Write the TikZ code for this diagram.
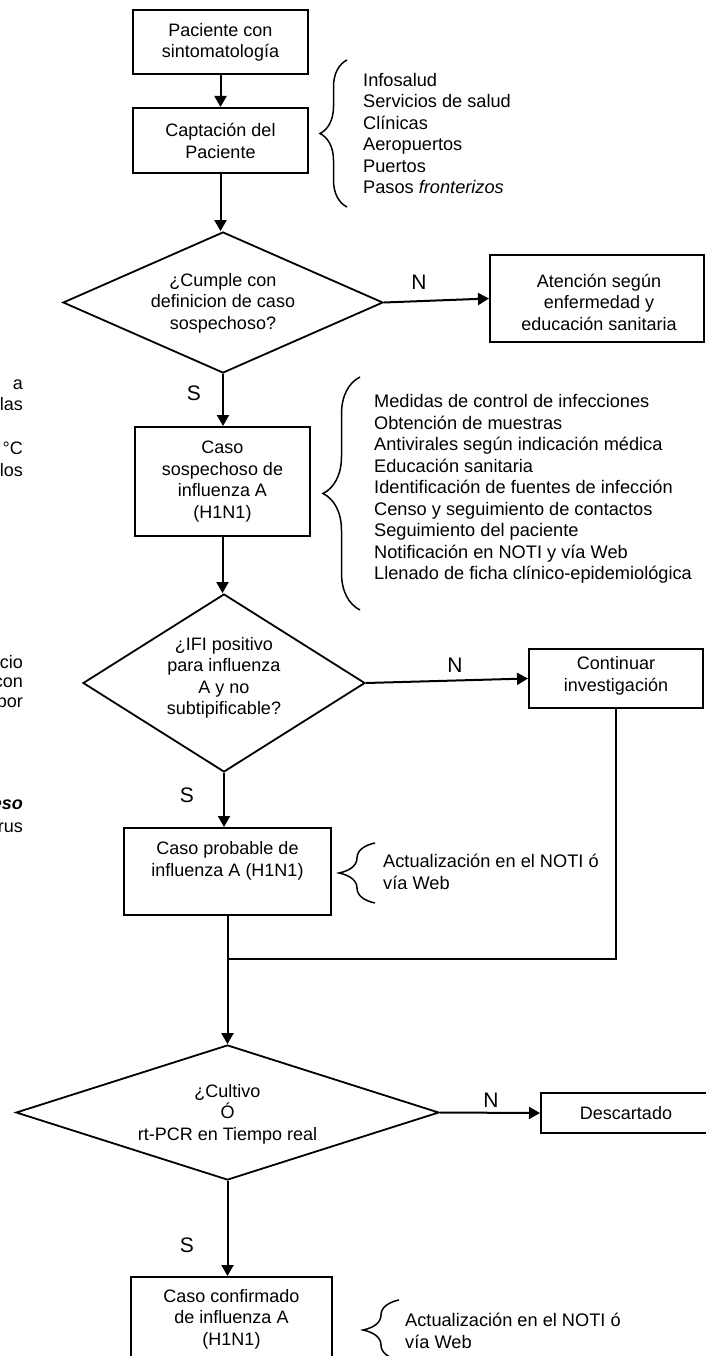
\documentclass[tikz,border=0pt]{standalone}
\usepackage{fontspec}
\setmainfont{Liberation Sans}
\usetikzlibrary{arrows.meta,decorations.pathreplacing,shapes.geometric}
\begin{document}
\begin{tikzpicture}[x=1pt,y=-1pt,
 box/.style={draw, line width=2pt, inner sep=0pt},
 dia/.style={draw, diamond, line width=1.8pt, inner sep=0pt},
 txt/.style={align=center, font=\fontsize{18}{21.5}\selectfont, inner sep=0pt},
 lst/.style={align=left, anchor=west, font=\fontsize{18.2}{21.5}\selectfont, inner sep=0pt},
 frag/.style={anchor=east, font=\fontsize{18}{21.5}\selectfont, inner sep=0pt},
 lab/.style={font=\fontsize{21}{24}\selectfont, inner sep=0pt},
 arr/.style={line width=2pt, -{Triangle[length=11pt,width=12pt]}},
 con/.style={line width=2pt},
 brc/.style={line width=1.5pt, decorate, decoration={brace, amplitude=#1}},
]
\useasboundingbox (0,0) rectangle (706,1356);
\clip (0,0) rectangle (706,1356);

% boxes
\node[box, minimum width=175pt, minimum height=64pt] (b1) at (220.5,42) {};
\node[box, minimum width=175pt, minimum height=65pt] (b2) at (220.5,140.5) {};
\node[box, minimum width=214pt, minimum height=87pt] (b3) at (597,298.5) {};
\node[box, minimum width=175pt, minimum height=109pt] (b4) at (222.5,481.5) {};
\node[box, minimum width=174pt, minimum height=59pt] (b5) at (616,678.5) {};
\node[box, minimum width=207pt, minimum height=87pt] (b6) at (227.5,871.5) {};
\node[box, minimum width=171pt, minimum height=40pt] (b7) at (626.5,1113) {};
\node[box, minimum width=201pt, minimum height=93pt] (b8) at (231.5,1323.5) {};

% diamonds
\node[dia, minimum width=320pt, minimum height=141pt] (d1) at (223,302.5) {};
\node[dia, minimum width=282pt, minimum height=178pt] (d2) at (224,683) {};
\node[dia, minimum width=423pt, minimum height=135pt] (d3) at (227.5,1112.5) {};

% texts in boxes
\node[txt] (t1) at (220.5,42.5) {Paciente con\\sintomatología};
\node[txt] (t2) at (220.5,141) {Captación del\\Paciente};
\node[txt] (t3) at (599,302) {Atención según\\enfermedad y\\educación sanitaria};
\node[txt] (t4) at (222.5,481.5) {Caso\\sospechoso de\\influenza A\\(H1N1)};
\node[txt] (t5) at (616,676) {Continuar\\investigación};
\node[txt] (t6) at (227.5,861) {Caso probable de\\influenza A (H1N1)};
\node[txt] (t7) at (626,1113) {Descartado};
\node[txt] (t8) at (231.5,1319) {Caso confirmado\\de influenza A\\(H1N1)};
\node[txt] (td1) at (223,303) {¿Cumple con\\definicion de caso\\sospechoso?};
\node[txt] (td2) at (224,678) {¿IFI positivo\\para influenza\\A y no\\subtipificable?};
\node[txt] (td3) at (227.5,1114) {¿Cultivo\\Ó\\rt-PCR en Tiempo real};

% lists
\node[lst] (l1) at (363,133.5) {Infosalud\\Servicios de salud\\Clínicas\\Aeropuertos\\Puertos\\Pasos \textit{fronterizos}};
\node[lst] (l2) at (374,489) {Medidas de control de infecciones\\Obtención de muestras\\Antivirales según indicación médica\\Educación sanitaria\\Identificación de fuentes de infección\\Censo y seguimiento de contactos\\Seguimiento del paciente\\Notificación en NOTI y vía Web\\Llenado de ficha clínico-epidemiológica};
\node[lst] (l3) at (383,872) {Actualización en el NOTI ó\\vía Web};
\node[lst] (l4) at (405,1331) {Actualización en el NOTI ó\\vía Web};

% braces
\coordinate (br1a) at (347,207); \coordinate (br1b) at (347,60);
\coordinate (br2a) at (360,610); \coordinate (br2b) at (360,377);
\coordinate (br3a) at (375,903); \coordinate (br3b) at (375,843);
\coordinate (br4a) at (399,1360); \coordinate (br4b) at (399,1300);
\draw[brc=27pt] (br1a) -- (br1b);
\draw[brc=37pt] (br2a) -- (br2b);
\draw[brc=36pt] (br3a) -- (br3b);
\draw[brc=36pt] (br4a) -- (br4b);

% labels
\node[lab] (n1) at (419,282) {N};
\node[lab] (n2) at (455,665) {N};
\node[lab] (n3) at (491,1100) {N};
\node[lab] (s1) at (194,393) {S};
\node[lab] (s2) at (187,795) {S};
\node[lab] (s3) at (187,1245) {S};

% left fragments (cut by the page edge, as in the reference)
\node[frag] (f1) at (23,385) {a};
\node[frag] (f2) at (23,404) {las};
\node[frag] (f3) at (23,448) {°C};
\node[frag] (f4) at (23,470) {los};
\node[frag] (f5) at (23,662) {cio};
\node[frag] (f6) at (23,683) {con};
\node[frag] (f7) at (23,705) {por};
\node[frag] (f8) at (23,805) {\bfseries\itshape eso};
\node[frag] (f9) at (23,828) {rus};

% connectors
\coordinate (j) at (227.5,959);
\draw[arr] (b1.south) -- (b2.north);
\draw[arr] (b2.south) -- (b2.south |- d1.north);
\draw[arr] (d1.east) -- (b3.west);
\draw[arr] (d1.south) -- (d1.south |- b4.north);
\draw[arr] (b4.south) -- (b4.south |- d2.north);
\draw[arr] (d2.east) -- (b5.west);
\draw[arr] (d2.south) -- (d2.south |- b6.north);
\draw[con] (b5.south) |- (j);
\draw[arr] (b6.south) -- (d3.north);
\draw[arr] (d3.east) -- (b7.west);
\draw[arr] (d3.south) -- (d3.south |- b8.north);
\end{tikzpicture}
\end{document}
